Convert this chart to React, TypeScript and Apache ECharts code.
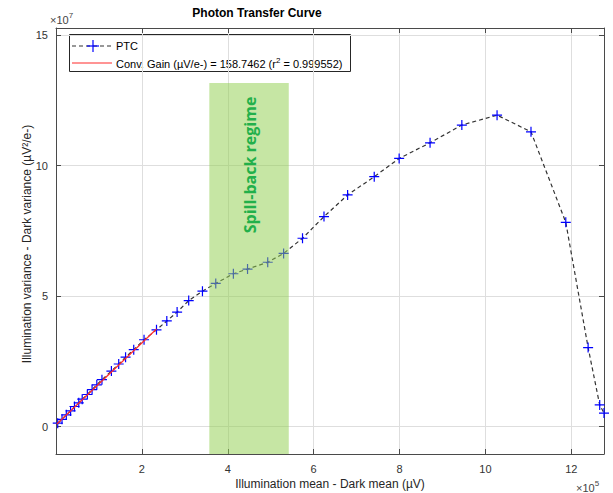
import React, { useEffect, useRef } from 'react';
import * as echarts from 'echarts';

// x in units of 1e5 µV, y in units of 1e7 µV²/e-
const ptcX = [0.04, 0.14, 0.24, 0.34, 0.43, 0.53, 0.61, 0.73, 0.84, 0.95, 1.07, 1.29, 1.46, 1.62, 1.81, 2.05, 2.34, 2.58, 2.82, 3.09, 3.41, 3.72, 4.13, 4.46, 4.93, 5.30, 5.74, 6.24, 6.79, 7.41, 7.99, 8.71, 9.45, 10.27, 11.06, 11.87, 12.39, 12.66, 12.76];
const ptcY = [0.13, 0.28, 0.45, 0.60, 0.77, 0.91, 1.05, 1.23, 1.42, 1.60, 1.80, 2.13, 2.40, 2.66, 2.95, 3.33, 3.71, 4.05, 4.39, 4.83, 5.19, 5.49, 5.86, 6.04, 6.30, 6.64, 7.22, 8.05, 8.88, 9.58, 10.28, 10.88, 11.56, 11.94, 11.30, 7.83, 3.03, 0.83, 0.52];
const fitX = [0.02, 2.34];
const fitY = [0.10, 3.74];
const spillX = [3.57, 5.42];
const spillY = [-1.05, 13.17];
const spillLabelPos = [4.52, 10.03];
const xRange = [0, 12.76];
const yRange = [-1.05, 15.28];

const FONT = '"Liberation Sans", Arial, Helvetica, sans-serif';
const PLUS = 'path://M0,4.4H10V5.6H0Z M4.4,0H5.6V10H4.4Z';

export default function App() {
  const ref = useRef<HTMLDivElement>(null);
  useEffect(() => {
    document.body.style.margin = '0';
    const chart = echarts.init(ref.current!, null, { renderer: 'svg' });
    const axisColor = '#4a4a4a';
    const labelColor = '#333';
    const grid = { left: 56, right: 9, top: 28, bottom: 39 };
    const yFmt = (v: number) => {
      const r = Math.round(v);
      return Math.abs(v - r) < 1e-6 && r % 5 === 0 ? String(r) : '';
    };
    const xFmt = (v: number) => {
      const r = Math.round(v);
      return Math.abs(v - r) < 1e-6 && r % 2 === 0 && r !== 0 ? String(r) : '';
    };
    const baseX = {
      type: 'value', min: xRange[0], max: xRange[1], interval: 2,
      axisLine: { show: true, onZero: false, lineStyle: { color: axisColor, width: 1 } },
      axisTick: { show: true, inside: true, length: 5, lineStyle: { color: axisColor } },
    };
    const baseY = {
      type: 'value', min: yRange[0], max: yRange[1], splitNumber: 3,
      axisLine: { show: true, onZero: false, lineStyle: { color: axisColor, width: 1 } },
      axisTick: { show: true, inside: true, length: 5, lineStyle: { color: axisColor } },
    };
    chart.setOption({
      animation: false,
      grid,
      xAxis: [
        {
          ...baseX, position: 'bottom',
          axisLabel: { formatter: xFmt, color: labelColor, fontSize: 11, fontFamily: FONT, margin: 9 },
          splitLine: { show: true, lineStyle: { color: '#dedede', width: 1 } },
        },
        {
          ...baseX, position: 'top',
          axisLabel: { show: false }, splitLine: { show: false },
        },
      ],
      yAxis: [
        {
          ...baseY, position: 'left',
          axisLabel: { formatter: yFmt, color: labelColor, fontSize: 11, fontFamily: FONT, margin: 8 },
          splitLine: { show: true, lineStyle: { color: '#dedede', width: 1 } },
        },
        {
          ...baseY, position: 'right',
          axisLabel: { show: false }, splitLine: { show: false },
        },
      ],
      series: [
        {
          name: 'PTC', type: 'line', z: 2,
          data: ptcX.map((x, i) => [x, ptcY[i]]),
          symbol: PLUS, symbolSize: 10, showAllSymbol: true,
          itemStyle: { color: '#0000ff' },
          lineStyle: { color: '#333', width: 1.2, type: [4, 3] },
        },
        {
          name: 'fit', type: 'line', z: 3,
          data: fitX.map((x, i) => [x, fitY[i]]),
          showSymbol: false, symbol: 'none',
          lineStyle: { color: '#ff2a2a', width: 1.2 },
        },
        {
          name: 'spill', type: 'custom', z: 4,
          data: [[spillX[0], spillX[1], spillY[0], spillY[1]]],
          encode: { x: [0, 1], y: [2, 3] },
          renderItem: (params: any, api: any) => {
            const p0 = api.coord([api.value(0), api.value(3)]);
            const p1 = api.coord([api.value(1), api.value(2)]);
            const c = api.coord(spillLabelPos);
            return {
              type: 'group',
              children: [
                {
                  type: 'rect',
                  shape: { x: p0[0], y: p0[1], width: p1[0] - p0[0], height: p1[1] - p0[1] },
                  style: { fill: 'rgba(146,208,80,0.52)' },
                },
                {
                  type: 'text', x: c[0], y: c[1], rotation: Math.PI / 2,
                  style: {
                    text: 'Spill-back regime', fill: '#22b04a',
                    font: 'bold 16px "Open Sans", sans-serif',
                    align: 'center', verticalAlign: 'middle',
                  },
                },
              ],
            };
          },
        },
      ],
      graphic: [
        {
          type: 'text', x: 257, y: 13, z: 10,
          style: { text: 'Photon Transfer Curve', font: `bold 12px ${FONT}`, fill: '#000', align: 'center', verticalAlign: 'middle' },
        },
        {
          type: 'text', x: 50, y: 18, z: 10,
          style: {
            text: '{a|×10}{b|7}', verticalAlign: 'middle',
            rich: {
              a: { fontSize: 11, fontFamily: FONT, fill: '#444', verticalAlign: 'bottom' },
              b: { fontSize: 8, fontFamily: FONT, fill: '#444', verticalAlign: 'top', padding: [0, 0, 6, 0] },
            },
          },
        },
        {
          type: 'text', x: 576, y: 486, z: 10,
          style: {
            text: '{a|×10}{b|5}', verticalAlign: 'middle',
            rich: {
              a: { fontSize: 11, fontFamily: FONT, fill: '#444', verticalAlign: 'bottom' },
              b: { fontSize: 8, fontFamily: FONT, fill: '#444', verticalAlign: 'top', padding: [0, 0, 6, 0] },
            },
          },
        },
        {
          type: 'text', x: 330, y: 484, z: 10,
          style: { text: 'Illumination mean - Dark mean (µV)', font: `12px ${FONT}`, fill: '#262626', align: 'center', verticalAlign: 'middle' },
        },
        {
          type: 'text', x: 27, y: 244, z: 10, rotation: Math.PI / 2,
          style: { text: 'Illumination variance - Dark variance (µV²/e-)', font: `12px ${FONT}`, fill: '#262626', align: 'center', verticalAlign: 'middle' },
        },
        {
          type: 'group', z: 20,
          children: [
            { type: 'rect', shape: { x: 69.5, y: 34.5, width: 281, height: 37 }, style: { fill: '#fff', stroke: '#262626', lineWidth: 1 } },
            { type: 'line', shape: { x1: 72, y1: 46, x2: 112, y2: 46 }, style: { stroke: '#333', lineWidth: 1.2, lineDash: [4, 3] } },
            { type: 'line', shape: { x1: 87, y1: 46, x2: 99, y2: 46 }, style: { stroke: '#0000ff', lineWidth: 1.2 } },
            { type: 'line', shape: { x1: 93, y1: 40, x2: 93, y2: 52 }, style: { stroke: '#0000ff', lineWidth: 1.2 } },
            { type: 'text', x: 116, y: 46, style: { text: 'PTC', font: `11px ${FONT}`, fill: '#000', verticalAlign: 'middle' } },
            { type: 'line', shape: { x1: 72, y1: 63, x2: 112, y2: 63 }, style: { stroke: '#ff2a2a', lineWidth: 1.2 } },
            {
              type: 'text', x: 116, y: 63,
              style: {
                text: '{a|Conv. Gain (µV/e-) = 158.7462 (r}{b|2}{a| = 0.999552)}', verticalAlign: 'middle',
                rich: {
                  a: { fontSize: 11, fontFamily: FONT, fill: '#000', verticalAlign: 'bottom' },
                  b: { fontSize: 8, fontFamily: FONT, fill: '#000', verticalAlign: 'top', padding: [0, 0, 5, 0] },
                },
              },
            },
          ],
        },
      ],
    });
    return () => chart.dispose();
  }, []);
  return <div ref={ref} style={{ width: 613, height: 493 }} />;
}
